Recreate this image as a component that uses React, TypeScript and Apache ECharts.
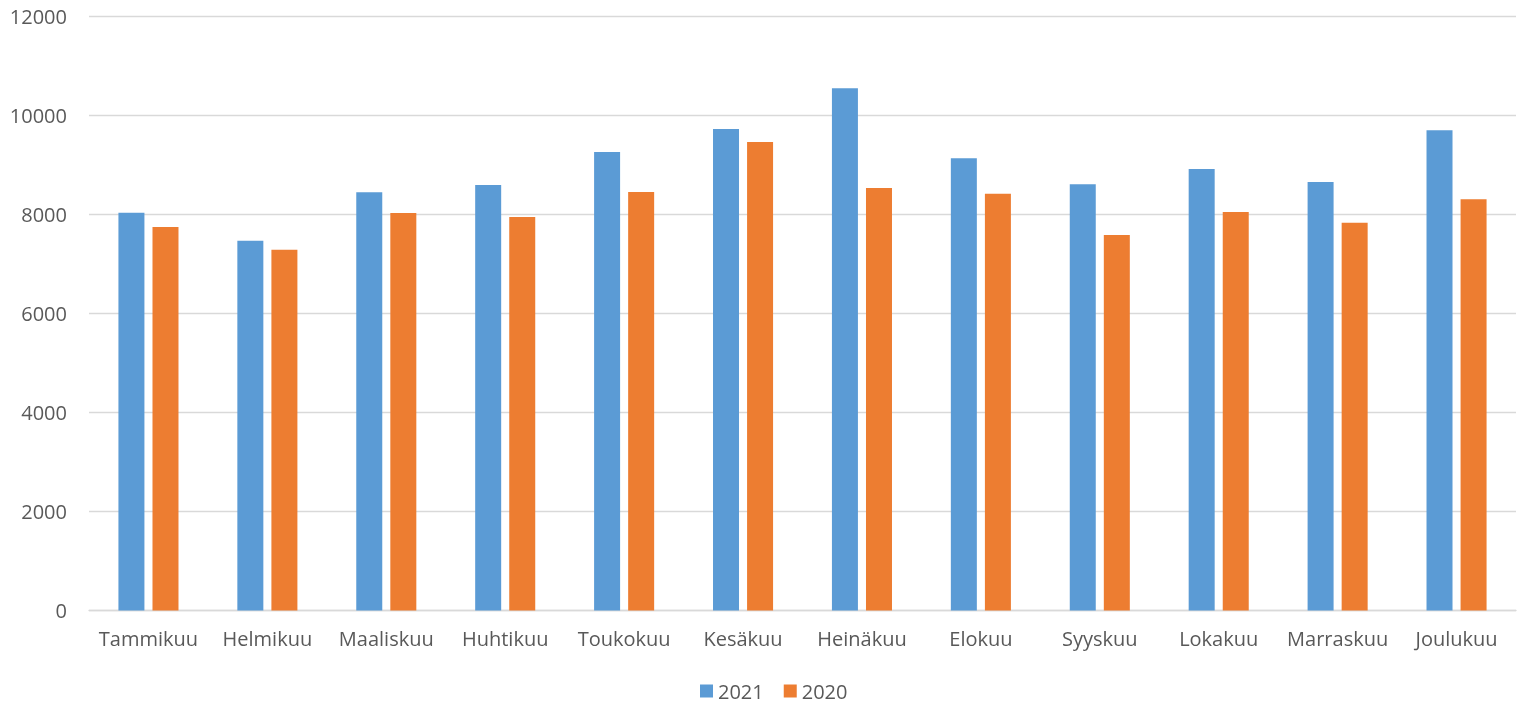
import React, { useEffect, useRef } from "react";
import * as echarts from "echarts";

const categories = [
  "Tammikuu", "Helmikuu", "Maaliskuu", "Huhtikuu", "Toukokuu", "Kesäkuu",
  "Heinäkuu", "Elokuu", "Syyskuu", "Lokakuu", "Marraskuu", "Joulukuu",
];
const values2021 = [8036, 7471, 8448, 8596, 9263, 9727, 10549, 9135, 8610, 8919, 8657, 9701];
const values2020 = [7747, 7289, 8030, 7950, 8455, 9465, 8535, 8420, 7586, 8050, 7834, 8307];
const seriesNames = ["2021", "2020"];

export default function App() {
  const ref = useRef<HTMLDivElement>(null);
  useEffect(() => {
    if (!ref.current) return;
    const chart = echarts.init(ref.current, undefined, { renderer: "svg" });
    const font = "'Open Sans', 'Noto Sans', sans-serif";
    chart.setOption({
      animation: false,
      textStyle: { fontFamily: font },
      grid: { left: 89, right: 6, top: 16.5, bottom: 100.5, containLabel: false },
      legend: {
        top: 676,
        left: 695,
        itemWidth: 13,
        itemHeight: 13,
        itemGap: 20,
        icon: "rect",
        textStyle: { fontSize: 20, color: "#595959", fontFamily: font },
        data: seriesNames,
      },
      xAxis: {
        type: "category",
        data: categories,
        axisLine: { lineStyle: { color: "#d9d9d9", width: 1.3 } },
        axisTick: { show: false },
        axisLabel: { fontSize: 20, color: "#595959", margin: 18, interval: 0, fontFamily: font },
      },
      yAxis: {
        type: "value",
        min: 0,
        max: 12000,
        interval: 2000,
        axisLine: { show: false },
        axisTick: { show: false },
        axisLabel: {
          fontSize: 20,
          color: "#595959",
          margin: 22,
          fontFamily: font,
          formatter: (v: number) => String(v),
        },
        splitLine: { lineStyle: { color: "#d9d9d9", width: 1.3 } },
      },
      series: [
        {
          name: seriesNames[0],
          type: "bar",
          data: values2021,
          barWidth: 26,
          barGap: "31%",
          itemStyle: { color: "#5b9bd5" },
        },
        {
          name: seriesNames[1],
          type: "bar",
          data: values2020,
          barWidth: 26,
          barGap: "31%",
          itemStyle: { color: "#ed7d31" },
        },
      ],
    });
    return () => chart.dispose();
  }, []);
  return (
    <div
      ref={ref}
      style={{ position: "fixed", left: 0, top: 0, width: 1522, height: 711 }}
    />
  );
}
